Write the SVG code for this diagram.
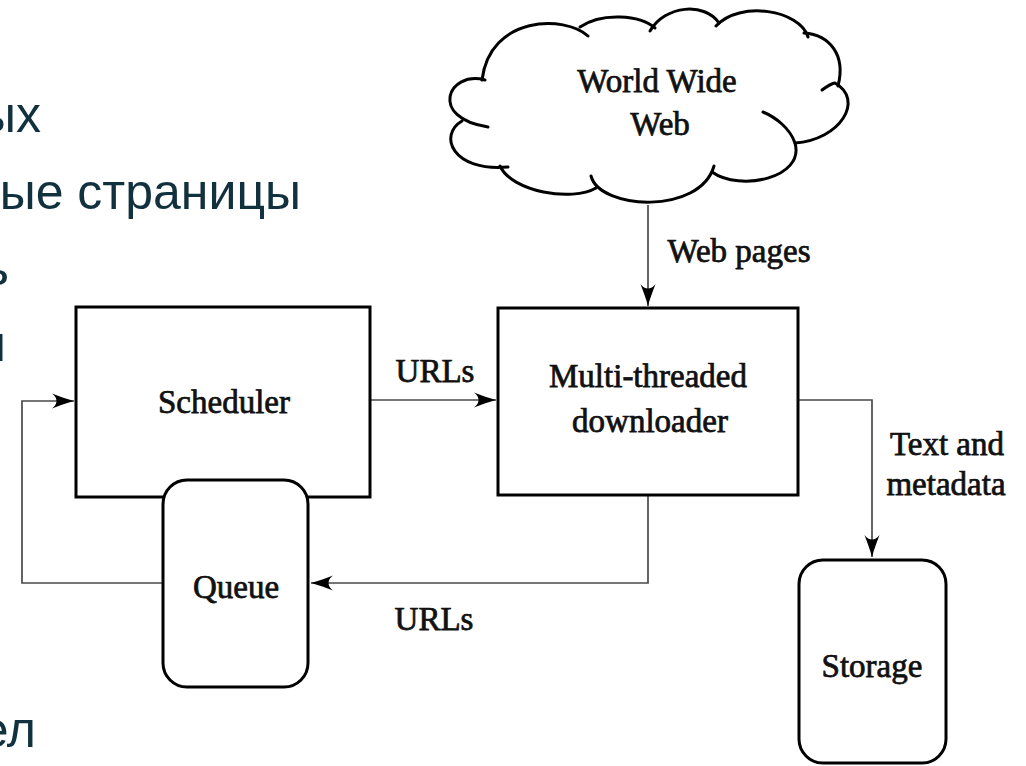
<svg xmlns="http://www.w3.org/2000/svg" width="1026" height="766" viewBox="0 0 1026 766">
<defs>
<style>
.bg{font-family:"Liberation Sans",Arial,sans-serif;font-size:50px;fill:#12313f;text-anchor:end}
.lbl{font-family:"Liberation Serif","Times New Roman",serif;font-size:33px;fill:#111;stroke:#111;stroke-width:0.75;text-anchor:middle}
.box{fill:#fff;stroke:#000;stroke-width:3}
.conn{fill:none;stroke:#4a4a4a;stroke-width:1.7}
</style>
<marker id="arr" markerUnits="userSpaceOnUse" markerWidth="30" markerHeight="20" viewBox="-24 -10 26 20" refX="0" refY="0" orient="auto">
<path d="M0,0 C-8,-2 -15,-5 -22,-7.5 C-16,-3 -16,3 -22,7.5 C-15,5 -8,2 0,0 Z" fill="#000"/>
</marker>
</defs>
<rect width="1026" height="766" fill="#fff"/>
<g id="slide-text">
<text class="bg" x="41" y="132">ых</text>
<text class="bg" x="301" y="209">ые страницы</text>
<text class="bg" x="9" y="285">ь</text>
<text class="bg" x="6" y="361">и</text>
<text class="bg" x="36" y="747">ел</text>
</g>
<g id="connectors">
<path class="conn" d="M648,205 V306" marker-end="url(#arr)"/>
<path class="conn" d="M370,400 H496" marker-end="url(#arr)"/>
<path class="conn" d="M648,495 V583 H311" marker-end="url(#arr)"/>
<path class="conn" d="M163,583 H22 V401 H74" marker-end="url(#arr)"/>
<path class="conn" d="M798,400 H872 V557" marker-end="url(#arr)"/>
<text class="lbl" x="739" y="262">Web pages</text>
<text class="lbl" x="435" y="382">URLs</text>
<text class="lbl" x="434" y="630">URLs</text>
<text class="lbl" x="947" y="455">Text and</text>
<text class="lbl" x="946" y="495">metadata</text>
</g>
<g id="web">
<path fill="#fff" stroke="none" d="M483,78 C460,76 440,100 460,123 C440,135 455,170 505,167 C515,190 570,200 592,178 C600,210 700,215 713,168 C740,192 805,178 795,143 C840,140 865,100 837,82 C845,55 830,35 806,33 C800,10 740,0 717,25 C705,2 665,5 650,30 C640,15 600,12 582,28 C565,15 490,15 483,78 Z"/>
<g fill="none" stroke="#000" stroke-width="3" stroke-linecap="round">
<path d="M588,36 C565,15 490,15 482,80"/>
<path d="M485,80 C448,70 428,118 488,127"/>
<path d="M462,121 C438,135 452,172 508,167"/>
<path d="M500,166 C512,192 572,202 596,188"/>
<path d="M591,176 C600,210 700,215 714,166"/>
<path d="M712,172 C740,192 805,178 795,143 C790,128 775,117 763,112"/>
<path d="M795,143 C840,140 865,100 835,83 C830,84 826,87 822,90"/>
<path d="M838,86 C846,55 830,35 804,33"/>
<path d="M808,37 C800,10 740,0 716,26"/>
<path d="M719,23 C705,2 665,5 650,31"/>
<path d="M655,28 C640,15 602,12 580,27"/>
</g>
<text class="lbl" x="657" y="92">World Wide</text>
<text class="lbl" x="660" y="135">Web</text>
</g>
<g id="scheduler">
<rect class="box" x="76" y="307" width="294" height="190"/>
<text class="lbl" x="224" y="413">Scheduler</text>
</g>
<g id="queue">
<rect class="box" x="163" y="480" width="145" height="207" rx="24" ry="24"/>
<text class="lbl" x="236" y="598">Queue</text>
</g>
<g id="downloader">
<rect class="box" x="498" y="308" width="300" height="187"/>
<text class="lbl" x="648" y="387">Multi-threaded</text>
<text class="lbl" x="650" y="432">downloader</text>
</g>
<g id="storage">
<rect class="box" x="799" y="560" width="147" height="203" rx="24" ry="24"/>
<text class="lbl" x="872" y="677">Storage</text>
</g>
</svg>
